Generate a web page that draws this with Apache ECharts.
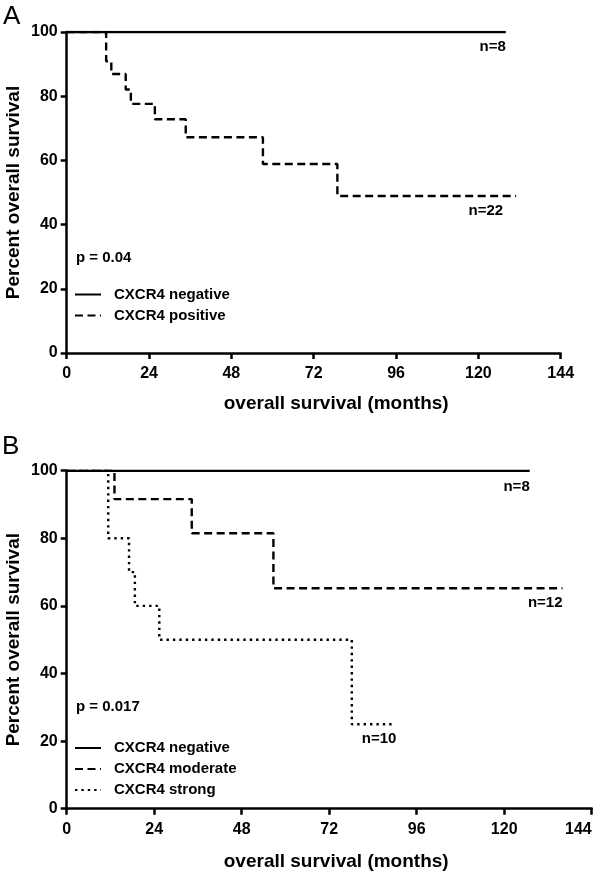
<!DOCTYPE html>
<html><head><meta charset="utf-8">
<script src="https://cdn.jsdelivr.net/npm/echarts@6/dist/echarts.min.js"></script>
<style>html,body{margin:0;padding:0;background:#fff}#c{width:600px;height:871px}</style>
</head><body><div id="c"></div>
<script>
// Panel A
const aNegTime = [0, 128];
const aNegSurv = [100, 100];
const aPosTime = [0, 11.5, 13, 17.2, 18.7, 25.7, 34.7, 57.2, 78.9, 131];
const aPosSurv = [100, 90.9, 86.9, 82.1, 77.6, 72.8, 67.2, 58.9, 48.9, 48.9];
// Panel B
const bNegTime = [0, 127];
const bNegSurv = [100, 100];
const bModTime = [0, 13.1, 34.3, 56.7, 136];
const bModSurv = [100, 91.6, 81.5, 65.2, 65.2];
const bStrTime = [0, 11.4, 17.1, 18.7, 25.4, 78.2, 89.6];
const bStrSurv = [100, 80, 70, 60, 50, 25, 25];
// labels
const nLabelsA = ['n=8', 'n=22'];
const nLabelsB = ['n=8', 'n=12', 'n=10'];
const pA = 'p = 0.04';
const pB = 'p = 0.017';

const FONT = '"Liberation Sans", Arial, Helvetica, sans-serif';
const pair = (t, s) => t.map((v, i) => [v, s[i]]);

function xAx(gi, gap, margin, shift, alignMax) {
  return {
    gridIndex: gi, type: 'value', min: 0, max: 144, interval: 24,
    name: 'overall survival (months)', nameLocation: 'middle', nameGap: gap, nameMoveOverlap: false,
    nameTextStyle: { fontFamily: FONT, fontWeight: 'bold', fontSize: 19, color: '#000', padding: [0, 0, 0, shift] },
    axisLine: { show: true, lineStyle: { color: '#000', width: 2.5 } },
    axisTick: { show: true, length: 6, lineStyle: { color: '#000', width: 2.5 } },
    axisLabel: { margin: margin, fontFamily: FONT, fontWeight: 'bold', fontSize: 16, color: '#000', alignMaxLabel: alignMax },
    splitLine: { show: false }
  };
}
function yAx(gi) {
  return {
    gridIndex: gi, type: 'value', min: 0, max: 100, interval: 20,
    name: 'Percent overall survival', nameLocation: 'middle', nameGap: 43, nameMoveOverlap: false,
    nameTextStyle: { fontFamily: FONT, fontWeight: 'bold', fontSize: 19, color: '#000' },
    axisLine: { show: true, lineStyle: { color: '#000', width: 2.5 } },
    axisTick: { show: true, length: 6, lineStyle: { color: '#000', width: 2.5 } },
    axisLabel: { margin: 9, fontFamily: FONT, fontWeight: 'bold', fontSize: 16, color: '#000' },
    splitLine: { show: false }
  };
}
function ser(name, gi, t, s, type) {
  return {
    name: name, type: 'line', xAxisIndex: gi, yAxisIndex: gi, step: 'end',
    symbol: 'none', showSymbol: false, data: pair(t, s), animation: false,
    lineStyle: { color: '#000', width: 2.4, type: type }, itemStyle: { color: '#000' }
  };
}
const solid = 'solid', dashed = [8, 4.5], dotted = [2.4, 4];

const legendBase = {
  orient: 'vertical', left: 74, itemWidth: 26, itemHeight: 14, itemGap: 6, padding: 0,
  itemStyle: { color: 'transparent', borderColor: 'transparent', borderWidth: 0 },
  textStyle: { fontFamily: FONT, fontWeight: 'bold', fontSize: 15, color: '#000', padding: [0, 0, 0, 8] },
  selectedMode: false
};

const chart = echarts.init(document.getElementById('c'), null, { renderer: 'canvas' });
chart.setOption({
  backgroundColor: '#fff',
  animation: false,
  grid: [
    { left: 66.7, top: 32, width: 494, height: 321, containLabel: false, outerBoundsMode: 'none' },
    { left: 66.7, top: 470.7, width: 525, height: 338, containLabel: false, outerBoundsMode: 'none' }
  ],
  xAxis: [xAx(0, 41.5, 13, 45, null), xAx(1, 44, 13, 14, 'right')],
  yAxis: [yAx(0), yAx(1)],
  legend: [
    Object.assign({}, legendBase, { top: 287, data: ['CXCR4 negative', 'CXCR4 positive'] }),
    Object.assign({}, legendBase, { top: 740.5, data: ['CXCR4 negative', 'CXCR4 moderate', 'CXCR4 strong'] })
  ],
  series: [
    ser('CXCR4 negative', 0, aNegTime, aNegSurv, solid),
    ser('CXCR4 positive', 0, aPosTime, aPosSurv, dashed),
    ser('CXCR4 negative', 1, bNegTime, bNegSurv, solid),
    ser('CXCR4 moderate', 1, bModTime, bModSurv, dashed),
    ser('CXCR4 strong', 1, bStrTime, bStrSurv, dotted)
  ]
});

// annotations placed relative to the end of each curve
function endPx(gi, t, s) {
  return chart.convertToPixel({ gridIndex: gi }, [t[t.length - 1], s[s.length - 1]]);
}
const txt = (x, y, s, align, size, weight) => ({
  type: 'text', x: x, y: y,
  style: { text: s, fill: '#000', font: (weight || 'bold') + ' ' + (size || 15) + 'px ' + FONT, textAlign: align || 'left', textVerticalAlign: 'middle' }
});
const eA1 = endPx(0, aNegTime, aNegSurv), eA2 = endPx(0, aPosTime, aPosSurv);
const eB1 = endPx(1, bNegTime, bNegSurv), eB2 = endPx(1, bModTime, bModSurv), eB3 = endPx(1, bStrTime, bStrSurv);
chart.setOption({
  graphic: [
    txt(3, 17, 'A', 'left', 26, 'normal'),
    txt(2, 447, 'B', 'left', 26, 'normal'),
    txt(eA1[0], eA1[1] + 14.5, nLabelsA[0], 'right'),
    txt(eA2[0] - 13, eA2[1] + 14.5, nLabelsA[1], 'right'),
    txt(eB1[0], eB1[1] + 16, nLabelsB[0], 'right'),
    txt(eB2[0], eB2[1] + 15, nLabelsB[1], 'right'),
    txt(eB3[0] + 3, eB3[1] + 15, nLabelsB[2], 'right'),
    txt(76, 258, pA, 'left'),
    txt(76, 707, pB, 'left')
  ]
});
</script></body></html>
